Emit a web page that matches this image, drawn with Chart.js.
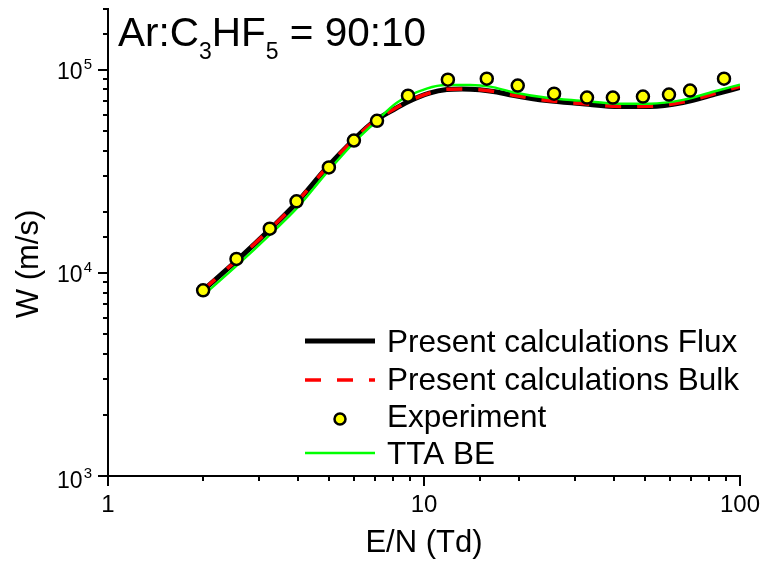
<!DOCTYPE html>
<html>
<head>
<meta charset="utf-8">
<title>Ar:C3HF5 = 90:10 drift velocity</title>
<script src="https://cdn.jsdelivr.net/npm/chart.js@4/dist/chart.umd.min.js"></script>
<style>
  html, body { margin: 0; padding: 0; background: #fff; }
  #chart { display: block; }
</style>
</head>
<body>
<canvas id="chart" width="761" height="564"></canvas>
<script>
// E/N (Td) and W (m/s)
const expE = [2.0, 2.55, 3.25, 3.95, 5.0, 6.0, 7.1, 8.9, 11.9, 15.8, 19.8, 25.8, 32.8, 39.6, 49.3, 59.6, 69.5, 89];
const expW = [8200, 11700, 16500, 22500, 33000, 44800, 56000, 74500, 89300, 90300, 83500, 76200, 72900, 72900, 73700, 75400, 78900, 90300];

const calcE = [2, 2.58, 3.28, 3.96, 4.93, 5.96, 6.94, 8.0, 8.9, 10.4, 11.8, 13.2, 15.0, 17.0, 19.1, 24.5, 31.2, 41.7, 51.9, 66, 84.6, 100];
const fluxW = [8200, 11650, 16550, 22200, 33000, 44800, 55500, 63500, 69500, 76600, 79800, 80300, 79600, 77600, 74800, 70400, 68100, 65800, 65800, 68800, 76200, 81800];
const bulkW = [8250, 11700, 16600, 22300, 33100, 44900, 55600, 63700, 69700, 76800, 80000, 80400, 79700, 77700, 74900, 70500, 68200, 65900, 66000, 69200, 76800, 82800];

const ttaE = [2, 2.58, 3.28, 3.96, 4.93, 5.96, 6.94, 8.2, 10.2, 11.8, 14.0, 16.2, 19.1, 24.5, 31.2, 41.7, 51.9, 66, 84.6, 100];
const ttaW = [7750, 11000, 15600, 20800, 31200, 43300, 54300, 68800, 80700, 84000, 84000, 82500, 77500, 72800, 70400, 68000, 68000, 71000, 78800, 84400];

const xTicks = [1, 10, 100];
const yTicks = [1e3, 1e4, 1e5];
const xTitle = 'E/N (Td)';
const yTitle = 'W (m/s)';

const FONT = '"Liberation Sans", Arial, Helvetica, sans-serif';
Chart.defaults.font.family = FONT;

function pts(xs, ys) {
  return xs.map((x, i) => ({ x: x, y: ys[i] }));
}

function isMajor(v) {
  const l = Math.log10(v);
  return Math.abs(l - Math.round(l)) < 1e-6;
}

const flux = {
  label: 'Present calculations Flux',
  data: pts(calcE, fluxW),
  borderColor: '#000',
  borderWidth: 5,
  pointRadius: 0,
  cubicInterpolationMode: 'monotone',
  order: 3
};
const bulk = {
  label: 'Present calculations Bulk',
  data: pts(calcE, bulkW),
  borderColor: '#ff0000',
  borderWidth: 3.5,
  borderDash: [16, 16],
  pointRadius: 0,
  cubicInterpolationMode: 'monotone',
  order: 2
};
const exper = {
  label: 'Experiment',
  data: pts(expE, expW),
  showLine: false,
  pointRadius: 6,
  pointBorderWidth: 2.5,
  pointBackgroundColor: '#ffff00',
  pointBorderColor: '#000',
  order: 0
};
const tta = {
  label: 'TTA BE',
  data: pts(ttaE, ttaW),
  borderColor: '#00ff00',
  borderWidth: 2.5,
  pointRadius: 0,
  cubicInterpolationMode: 'monotone',
  order: 1
};

// tick marks, tick labels, axis titles, note and legend
const decor = {
  id: 'decor',
  afterDraw(chart) {
    const { ctx, chartArea: area, scales: { x, y } } = chart;
    ctx.save();
    ctx.strokeStyle = '#000';
    ctx.fillStyle = '#000';
    ctx.lineWidth = 2;

    ctx.beginPath();
    x.ticks.forEach(t => {
      const px = Math.round(x.getPixelForValue(t.value));
      const len = isMajor(t.value) ? 10 : 5;
      ctx.moveTo(px, area.bottom);
      ctx.lineTo(px, area.bottom + len);
    });
    y.ticks.forEach(t => {
      const py = Math.round(y.getPixelForValue(t.value));
      const len = isMajor(t.value) ? 10 : 5;
      ctx.moveTo(area.left, py);
      ctx.lineTo(area.left - len, py);
    });
    ctx.stroke();

    // x tick labels
    ctx.font = '24px ' + FONT;
    ctx.textAlign = 'center';
    ctx.textBaseline = 'alphabetic';
    xTicks.forEach(v => {
      ctx.fillText(String(v), x.getPixelForValue(v), area.bottom + 36);
    });

    // y tick labels as 10^n
    yTicks.forEach((v, i) => {
      const py = y.getPixelForValue(v) + (i === 0 ? 3 : 0);
      const exp = String(Math.round(Math.log10(v)));
      const right = area.left - 16;
      ctx.textAlign = 'right';
      ctx.font = '15px ' + FONT;
      const ew = ctx.measureText(exp).width;
      ctx.fillText(exp, right, py - 1);
      ctx.font = '23px ' + FONT;
      ctx.fillText('10', right - ew - 1, py + 9);
    });

    // axis titles
    ctx.font = '31px ' + FONT;
    ctx.textAlign = 'center';
    ctx.fillText(xTitle, (area.left + area.right) / 2, 552);
    ctx.save();
    ctx.translate(38, 264);
    ctx.rotate(-Math.PI / 2);
    ctx.fillText(yTitle, 0, 0);
    ctx.restore();

    // mixture note with subscripts
    const parts = [['Ar:C', 40.5, 0], ['3', 23, 13], ['HF', 40.5, 0], ['5', 23, 13], [' = 90:10', 40.5, 0]];
    let tx = area.left + 10;
    ctx.textAlign = 'left';
    parts.forEach(([s, size, dy]) => {
      ctx.font = size + 'px ' + FONT;
      ctx.fillText(s, tx, 46 + dy);
      tx += ctx.measureText(s).width;
    });

    // legend
    const items = [flux, bulk, exper, tta];
    const rowY = [341, 380, 419, 453];
    const textY = [343, 381, 418, 455];
    const x0 = 305, x1 = 375;
    items.forEach((ds, i) => {
      const ly = rowY[i];
      if (ds.showLine === false) {
        ctx.beginPath();
        ctx.arc((x0 + x1) / 2, ly, ds.pointRadius - 0.5, 0, Math.PI * 2);
        ctx.fillStyle = ds.pointBackgroundColor;
        ctx.fill();
        ctx.lineWidth = ds.pointBorderWidth;
        ctx.strokeStyle = ds.pointBorderColor;
        ctx.stroke();
      } else {
        ctx.beginPath();
        ctx.setLineDash(ds.borderDash || []);
        ctx.lineWidth = ds.borderWidth;
        ctx.strokeStyle = ds.borderColor;
        ctx.moveTo(x0, ly);
        ctx.lineTo(x1, ly);
        ctx.stroke();
        ctx.setLineDash([]);
      }
      ctx.fillStyle = '#000';
      ctx.font = '31.5px ' + FONT;
      ctx.textAlign = 'left';
      ctx.textBaseline = 'middle';
      ctx.fillText(ds.label, 387, textY[i]);
      ctx.textBaseline = 'alphabetic';
    });
    ctx.restore();
  }
};

new Chart(document.getElementById('chart'), {
  type: 'line',
  data: { datasets: [flux, bulk, exper, tta] },
  options: {
    responsive: false,
    animation: false,
    layout: { padding: { top: 7, right: 21, left: 0, bottom: 0 } },
    plugins: { legend: { display: false }, tooltip: { enabled: false } },
    scales: {
      x: {
        type: 'logarithmic',
        min: 1,
        max: 100,
        position: 'bottom',
        grid: { display: false },
        border: { display: true, color: '#000', width: 2 },
        ticks: { display: false },
        afterFit: s => { s.height = 88; }
      },
      y: {
        type: 'logarithmic',
        min: 1000,
        max: 200000,
        position: 'left',
        grid: { display: false },
        border: { display: true, color: '#000', width: 2 },
        ticks: { display: false },
        afterFit: s => { s.width = 108; }
      }
    }
  },
  plugins: [decor]
});
</script>
</body>
</html>
